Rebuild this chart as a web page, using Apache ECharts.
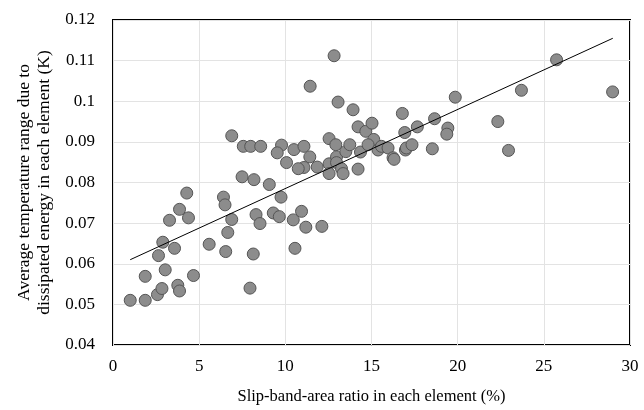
<!DOCTYPE html>
<html>
<head>
<meta charset="utf-8">
<script src="https://cdn.jsdelivr.net/npm/echarts@6/dist/echarts.min.js"></script>
<style>
  html, body { margin: 0; padding: 0; background: #fff; }
  #main { width: 644px; height: 410px; }
</style>
</head>
<body>
<div id="main"></div>
<script>
// slip-band-area ratio (%) and temperature range (K)
var slipRatio = [
  1.0, 1.87, 2.58, 2.84, 3.76, 3.86, 1.87, 3.03, 4.67, 2.64,
  2.89, 3.57, 3.28, 3.86, 4.38, 4.28, 5.58, 6.41, 6.50, 6.89,
  6.66, 6.54, 9.75, 8.30, 8.53, 9.30, 9.65, 10.46, 10.94, 11.19,
  12.12, 8.14, 10.56, 7.95, 6.89, 7.56, 7.99, 8.57, 9.78, 9.53,
  10.07, 10.50, 11.08, 11.42, 11.08, 10.75, 11.85, 12.54, 12.93, 12.54,
  12.54, 12.97, 12.97, 13.26, 13.35, 13.51, 13.74, 14.22, 14.22, 14.67,
  14.36, 7.49, 8.18, 9.07, 12.83, 11.44, 13.06, 13.93, 16.79, 15.03,
  18.66, 17.66, 16.93, 19.43, 19.37, 19.86, 22.33, 15.13, 14.80, 15.38,
  15.58, 15.96, 16.25, 16.31, 16.97, 17.02, 17.35, 18.53, 25.74, 23.70,
  28.99, 22.95
];
var tempRange = [
  0.0510, 0.0510, 0.0524, 0.0539, 0.0547, 0.0533, 0.0569, 0.0585, 0.0571, 0.0620,
  0.0653, 0.0638, 0.0707, 0.0734, 0.0713, 0.0774, 0.0648, 0.0764, 0.0745, 0.0709,
  0.0677, 0.0630, 0.0764, 0.0721, 0.0699, 0.0725, 0.0716, 0.0708, 0.0729, 0.0690,
  0.0692, 0.0624, 0.0638, 0.0540, 0.0915, 0.0889, 0.0889, 0.0889, 0.0892, 0.0873,
  0.0849, 0.0881, 0.0889, 0.0863, 0.0837, 0.0834, 0.0838, 0.0908, 0.0893, 0.0846,
  0.0822, 0.0863, 0.0849, 0.0834, 0.0822, 0.0876, 0.0893, 0.0833, 0.0937, 0.0926,
  0.0875, 0.0814, 0.0807, 0.0795, 0.1112, 0.1037, 0.0998, 0.0979, 0.0970, 0.0946,
  0.0957, 0.0937, 0.0923, 0.0934, 0.0919, 0.1010, 0.0950, 0.0906, 0.0893, 0.0880,
  0.0889, 0.0885, 0.0861, 0.0857, 0.0880, 0.0885, 0.0893, 0.0883, 0.1102, 0.1027,
  0.1023, 0.0879
];
// linear trendline end points
var trendX = [1.0, 29.0];
var trendY = [0.0610, 0.1155];

var points = slipRatio.map(function (x, i) { return [x, tempRange[i]]; });
var trend = trendX.map(function (x, i) { return [x, trendY[i]]; });

var font = 'Liberation Serif';
var chart = echarts.init(document.getElementById('main'));
chart.setOption({
  animation: false,
  grid: {
    left: 113, right: 14, top: 20, bottom: 63,
    show: true, borderColor: '#000', borderWidth: 2, backgroundColor: '#fff'
  },
  xAxis: {
    type: 'value', min: 0, max: 30, interval: 5,
    name: 'Slip-band-area ratio in each element (%)',
    nameLocation: 'middle', nameGap: 43,
    nameTextStyle: { fontFamily: font, fontSize: 16.5, color: '#000' },
    axisLine: { show: false },
    axisTick: { show: false },
    axisLabel: { fontFamily: font, fontSize: 17, color: '#000', margin: 13 },
    splitLine: { lineStyle: { color: '#e3e3e3', width: 1 } }
  },
  yAxis: {
    type: 'value', min: 0.04, max: 0.12, interval: 0.01,
    name: 'Average temperature range due to\ndissipated energy in each element (K)',
    nameLocation: 'middle', nameGap: 58,
    nameTextStyle: { fontFamily: font, fontSize: 17.5, color: '#000', lineHeight: 20 },
    axisLine: { show: false },
    axisTick: { show: false },
    axisLabel: {
      fontFamily: font, fontSize: 17, color: '#000', margin: 18,
      formatter: function (v) { return String(parseFloat(v.toFixed(2))); }
    },
    splitLine: { lineStyle: { color: '#e3e3e3', width: 1 } }
  },
  series: [
    {
      type: 'scatter',
      data: points,
      symbolSize: 12,
      itemStyle: { color: '#8c8c8c', borderColor: '#555', borderWidth: 1, opacity: 1 }
    },
    {
      type: 'line',
      data: trend,
      symbol: 'none',
      lineStyle: { color: '#000', width: 1 },
      z: 3
    }
  ]
});
</script>
</body>
</html>
